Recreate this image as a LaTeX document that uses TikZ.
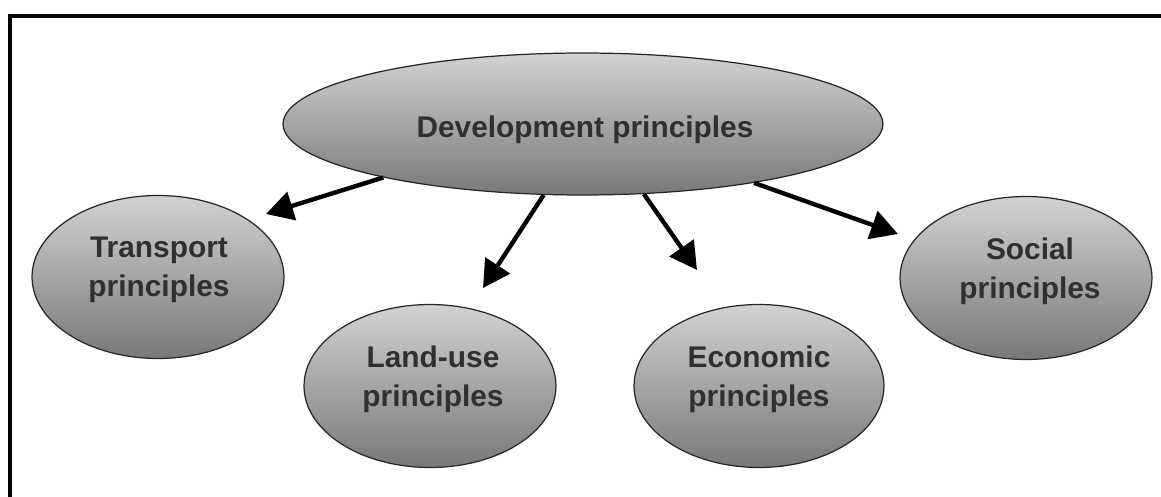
\documentclass[tikz,border=0pt]{standalone}
\usepackage{fontspec}
\setmainfont{Liberation Sans}
\usepackage{tikz}
\usetikzlibrary{shapes.geometric,arrows.meta}
\definecolor{shadetop}{RGB}{210,210,210}
\definecolor{shadebot}{RGB}{120,120,120}
\definecolor{inkgray}{RGB}{48,48,48}

\begin{document}
\begin{tikzpicture}[x=0.02cm,y=-0.02cm,
  bubble/.style={ellipse, draw=black!85, line width=0.7pt, top color=shadetop, bottom color=shadebot, inner sep=0pt, minimum width=5.04cm, minimum height=3.26cm},
  caption/.style={align=center, text=inkgray, inner sep=0pt, font=\bfseries\fontsize{17}{22}\selectfont},
  arr/.style={line width=2.5pt, -{Triangle[length=0.54cm,width=0.58cm]}}]
\useasboundingbox (0,0) rectangle (1161,497);
\draw [line width=2.3pt] (10,497) -- (10,16) -- (1161,16);
\node [bubble, minimum width=12cm, minimum height=2.84cm] (dev) at (583,124){};
\node [bubble] (transport) at (158,277){};
\node [bubble] (landuse) at (430,386){};
\node [bubble, minimum width=5cm] (economic) at (759,386){};
\node [bubble] (social) at (1026,278){};
\node [caption] (dev-t) at (585,130){Development principles};
\node [caption] (transport-t) at (159,270){Transport\\principles};
\node [caption] (landuse-t) at (433,379){Land-use\\principles};
\node [caption] (economic-t) at (759,379){Economic\\principles};
\node [caption] (social-t) at (1030,271){Social\\principles};
\coordinate (transport-tip) at (266,214);
\coordinate (landuse-tip) at (483,288);
\coordinate (economic-tip) at (697,270);
\coordinate (social-tip) at (898,234);
\draw [arr] (dev.195) -- (transport-tip);
\draw [arr] (dev.241) -- (landuse-tip);
\draw [arr] (dev.311) -- (economic-tip);
\draw [arr] (dev.341) -- (social-tip);
\end{tikzpicture}
\end{document}
